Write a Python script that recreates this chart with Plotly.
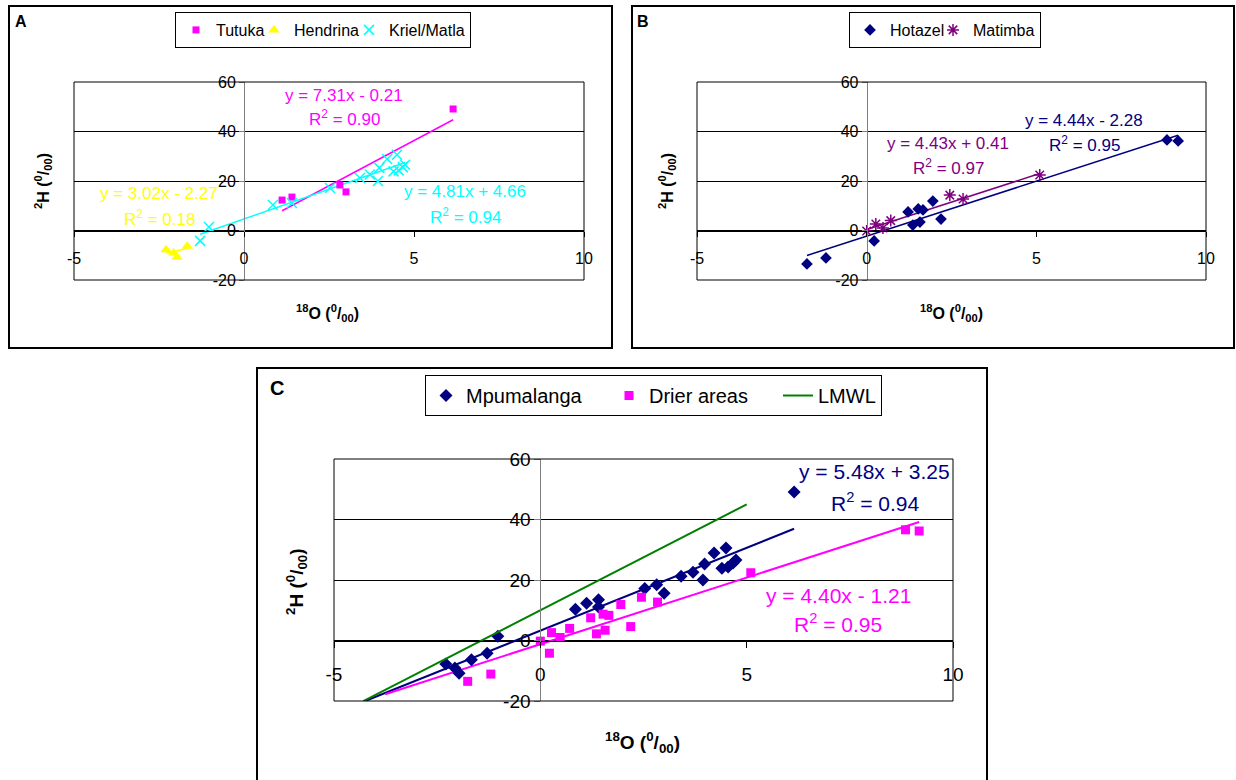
import numpy as np
import plotly.graph_objects as go

W, H = 1236, 780
FONT = "Arial, Liberation Sans, sans-serif"

# ---------------- data ----------------
tutuka_x = [1.12, 1.41, 2.82, 3.00, 6.15]
tutuka_y = [12.3, 13.5, 18.4, 15.6, 49.1]

hendrina_x = [-2.29, -2.07, -1.97, -1.67]
hendrina_y = [-7.8, -9.1, -10.8, -6.4]

kriel_x = [-1.29, -1.03, 0.85, 1.41, 2.53, 3.41, 3.70, 3.94, 3.98, 4.21, 4.50, 4.40, 4.55, 4.67, 4.74]
kriel_y = [-4.2, 1.4, 10.3, 11.1, 17.2, 21.2, 22.6, 20.0, 25.3, 28.9, 30.6, 23.9, 24.3, 25.6, 26.6]

hotazel_x = [-1.76, -1.20, 0.22, 1.22, 1.36, 1.52, 1.57, 1.66, 1.95, 2.19, 8.85, 9.18]
hotazel_y = [-13.5, -11.1, -4.2, 7.5, 2.2, 8.7, 3.4, 8.3, 11.9, 4.6, 36.6, 36.2]

matimba_x = [0.00, 0.27, 0.48, 0.71, 2.45, 2.84, 5.10]
matimba_y = [-0.2, 2.6, 1.0, 4.0, 14.3, 12.7, 22.4]

# panel C groups
mpumalanga_x = tutuka_x + hendrina_x + kriel_x
mpumalanga_y = tutuka_y + hendrina_y + kriel_y
drier_x = hotazel_x + matimba_x
drier_y = hotazel_y + matimba_y

# trend lines: (slope, intercept, R2)
trend_tutuka = (7.31, -0.21, 0.90)
trend_hendrina = (3.02, -2.27, 0.18)
trend_kriel = (4.81, 4.66, 0.94)
trend_hotazel = (4.44, -2.28, 0.95)
trend_matimba = (4.43, 0.41, 0.97)
trend_mpumalanga = (5.48, 3.25, 0.94)
trend_drier = (4.40, -1.21, 0.95)
backward_forecast_c = 2.0

lmwl_slope, lmwl_intercept = 7.0, 10.0
lmwl_x = [-4.29, 5.0]

x_ticks = [-5, 0, 5, 10]
y_ticks = [-20, 0, 20, 40, 60]
x_range = [-5, 10]
y_range = [-20, 60]

# colours
MAGENTA = "#FF00FF"
YELLOW = "#FFFF00"
CYAN = "#00FFFF"
NAVY = "#000080"
PURPLE = "#800080"
GREEN = "#008000"

# ---------------- layout helpers ----------------
def fx(px):
    return px / W

def fy(py):
    return 1 - py / H

fig = go.Figure()

panels = {
    1: dict(xpx=(74, 584), ypx=(82, 280), tick=16, stand=8, ticklen=5),
    2: dict(xpx=(697, 1206), ypx=(82, 280), tick=16, stand=8, ticklen=5),
    3: dict(xpx=(334, 953), ypx=(459, 701), tick=19, stand=11, ticklen=6),
}

layout = dict(
    width=W, height=H, margin=dict(l=0, r=0, t=0, b=0, autoexpand=False),
    paper_bgcolor="white", plot_bgcolor="white",
    font=dict(family=FONT, color="black"),
    showlegend=True,
)

for n, p in panels.items():
    xdom = [fx(p["xpx"][0]), fx(p["xpx"][1])]
    ydom = [fy(p["ypx"][1]), fy(p["ypx"][0])]
    xpos = ydom[0] + (0 - y_range[0]) / (y_range[1] - y_range[0]) * (ydom[1] - ydom[0])
    ypos = xdom[0] + (0 - x_range[0]) / (x_range[1] - x_range[0]) * (xdom[1] - xdom[0])
    sfx = "" if n == 1 else str(n)
    layout["xaxis" + sfx] = dict(
        domain=xdom, range=x_range, anchor="free", position=xpos, side="bottom",
        showline=True, linecolor="black", linewidth=1,
        ticks="outside", ticklen=p["ticklen"], tickcolor="black",
        tickvals=x_ticks, ticktext=[str(v) for v in x_ticks],
        showgrid=False, zeroline=False,
        tickfont=dict(size=p["tick"], family=FONT, color="black"),
        ticklabelstandoff=p["stand"], fixedrange=True,
    )
    layout["yaxis" + sfx] = dict(
        domain=ydom, range=y_range, anchor="free", position=ypos, side="left",
        showline=True, linecolor="#808080", linewidth=1,
        ticks="outside", ticklen=p["ticklen"], tickcolor="#808080",
        tickvals=y_ticks, ticktext=[str(v) for v in y_ticks],
        showgrid=True, gridcolor="black", gridwidth=1, zeroline=False,
        tickfont=dict(size=p["tick"], family=FONT, color="black"),
        fixedrange=True,
    )

# ---------------- traces ----------------
def scatter(x, y, name, n, legend, marker, lw=None):
    sfx = "" if n == 1 else str(n)
    kw = {}
    if lw:
        kw["legendwidth"] = lw
    fig.add_trace(go.Scatter(
        x=x, y=y, mode="markers", name=name, marker=marker,
        xaxis="x" + sfx, yaxis="y" + sfx, legend=legend, **kw,
    ))

def trend(xdata, coef, n, color, width, back=0.0):
    sfx = "" if n == 1 else str(n)
    xs = np.array([min(xdata) - back, max(xdata)])
    ys = coef[0] * xs + coef[1]
    fig.add_trace(go.Scatter(
        x=xs, y=ys, mode="lines", line=dict(color=color, width=width),
        showlegend=False, hoverinfo="skip", xaxis="x" + sfx, yaxis="y" + sfx,
    ))

# Panel A
trend(tutuka_x, trend_tutuka, 1, MAGENTA, 1.5)
trend(hendrina_x, trend_hendrina, 1, YELLOW, 1.5)
trend(kriel_x, trend_kriel, 1, CYAN, 1.5)
scatter(tutuka_x, tutuka_y, "Tutuka", 1, "legend",
        dict(symbol="square", size=7, color=MAGENTA), lw=33)
scatter(hendrina_x, hendrina_y, "Hendrina", 1, "legend",
        dict(symbol="triangle-up", size=10, color=YELLOW), lw=50)
scatter(kriel_x, kriel_y, "Kriel/Matla", 1, "legend",
        dict(symbol="x-thin-open", size=10, color=CYAN, line=dict(color=CYAN, width=1.5)))

# Panel B
trend(hotazel_x, trend_hotazel, 2, NAVY, 1.5)
trend(matimba_x, trend_matimba, 2, PURPLE, 1.5)
scatter(hotazel_x, hotazel_y, "Hotazel", 2, "legend2",
        dict(symbol="diamond", size=9, color=NAVY), lw=38)
scatter(matimba_x, matimba_y, "Matimba", 2, "legend2",
        dict(symbol="asterisk-open", size=10, color=PURPLE, line=dict(color=PURPLE, width=1.5)))

# Panel C
trend(mpumalanga_x, trend_mpumalanga, 3, NAVY, 2, back=backward_forecast_c)
trend(drier_x, trend_drier, 3, MAGENTA, 2, back=backward_forecast_c)
scatter(mpumalanga_x, mpumalanga_y, "Mpumalanga", 3, "legend3",
        dict(symbol="diamond", size=10, color=NAVY), lw=138)
scatter(drier_x, drier_y, "Drier areas", 3, "legend3",
        dict(symbol="square", size=9, color=MAGENTA), lw=124)
lx = np.array(lmwl_x)
fig.add_trace(go.Scatter(
    x=lx, y=lmwl_slope * lx + lmwl_intercept, mode="lines", name="LMWL",
    line=dict(color=GREEN, width=2), xaxis="x3", yaxis="y3", legend="legend3",
))

# ---------------- legends ----------------
def legend_cfg(left, top, size):
    return dict(
        orientation="h", x=fx(left), xanchor="left", y=fy(top), yanchor="top",
        bgcolor="white", bordercolor="black", borderwidth=1,
        font=dict(size=size, family=FONT, color="black"),
        itemclick=False, itemdoubleclick=False,
    )

layout["legend"] = legend_cfg(175, 12, 16)
layout["legend2"] = legend_cfg(849, 12, 16)
layout["legend3"] = legend_cfg(425, 375, 20)

# ---------------- shapes (frames) ----------------
shapes = []
for n in panels:
    sfx = "" if n == 1 else str(n)
    shapes.append(dict(type="rect", xref="x" + sfx + " domain", yref="y" + sfx + " domain",
                       x0=0, x1=1, y0=0, y1=1, line=dict(color="black", width=1),
                       fillcolor="rgba(0,0,0,0)", layer="above"))
for (x0, y0, x1, y1) in [(9, 6, 612, 348), (632, 6, 1234, 348), (257, 368, 987, 800)]:
    shapes.append(dict(type="rect", xref="paper", yref="paper",
                       x0=fx(x0), x1=fx(x1), y0=fy(y1), y1=fy(y0),
                       line=dict(color="black", width=2), fillcolor="rgba(0,0,0,0)"))
layout["shapes"] = shapes

# ---------------- annotations ----------------
ann = []

def text(t, px, py, size, color="black", angle=0, bold=False):
    ann.append(dict(
        text=("<b>%s</b>" % t) if bold else t, x=fx(px), y=fy(py),
        xref="paper", yref="paper", showarrow=False, textangle=angle,
        xanchor="center", yanchor="middle",
        font=dict(size=size, family=FONT, color=color),
    ))

def eq(coef, cx, cy, dy, size, color):
    s, b, r2 = coef
    sign = "+" if b >= 0 else "-"
    text("y = %.2fx %s %.2f" % (s, sign, abs(b)), cx, cy, size, color)
    text("R<sup>2</sup> = %.2f" % r2, cx, cy + dy, size, color)

eq(trend_tutuka, 344, 95, 23, 17, MAGENTA)
eq(trend_hendrina, 159, 193, 25, 17, YELLOW)
eq(trend_kriel, 465, 191, 25, 17, CYAN)
eq(trend_matimba, 948, 143, 24, 17, PURPLE)
eq(trend_hotazel, 1084, 120, 24, 17, NAVY)
eq(trend_mpumalanga, 875, 472, 30, 21, NAVY)
eq(trend_drier, 838, 595, 28, 21, MAGENTA)

ytitle = "<sup>2</sup>H (<sup>0</sup>/<sub>00</sub>)"
xtitle = "<sup>18</sup>O (<sup>0</sup>/<sub>00</sub>)"
text(ytitle, 43, 181, 16, angle=-90, bold=True)
text(xtitle, 327, 313, 16, bold=True)
text(ytitle, 667, 181, 16, angle=-90, bold=True)
text(xtitle, 951, 313, 16, bold=True)
text(ytitle, 296, 582, 19, angle=-90, bold=True)
text(xtitle, 642, 742, 19, bold=True)

text("A", 21, 21, 16, bold=True)
text("B", 643, 21, 16, bold=True)
text("C", 277, 388, 20, bold=True)

layout["annotations"] = ann

fig.update_layout(**layout)
fig.write_html("out.html")
